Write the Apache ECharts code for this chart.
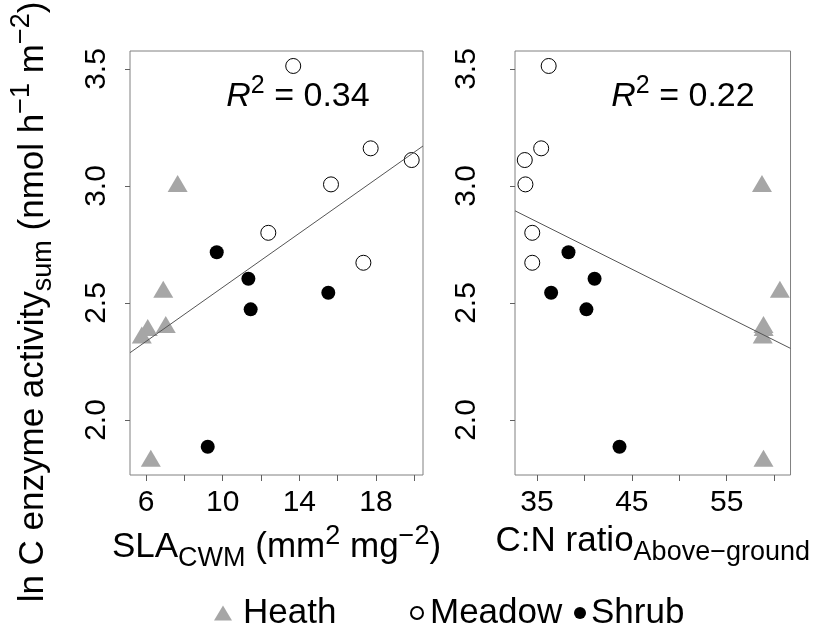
<!DOCTYPE html>
<html>
<head>
<meta charset="utf-8">
<script src="https://cdn.jsdelivr.net/npm/echarts@6/dist/echarts.min.js"></script>
<style>html,body{margin:0;padding:0;background:#fff;}#c{width:813px;height:630px;}</style>
</head>
<body>
<div id="c"></div>
<script>
// ---- data ----
const heathLn   = [2.998, 2.546, 2.395, 2.383, 2.351, 1.824];
const heathSLA  = [7.65, 6.9, 7.03, 6.09, 5.78, 6.25];
const heathCN   = [58.72, 60.61, 58.88, 58.9, 58.8, 58.88];

const meadowLn  = [3.513, 3.161, 3.111, 3.007, 2.80, 2.672];
const meadowSLA = [13.68, 17.72, 19.86, 15.65, 12.38, 17.34];
const meadowCN  = [36.23, 35.44, 33.71, 33.78, 34.50, 34.50];

const shrubLn   = [2.717, 2.604, 2.544, 2.473, 1.886];
const shrubSLA  = [9.69, 11.34, 15.51, 11.46, 9.22];
const shrubCN   = [38.32, 41.07, 36.49, 40.21, 43.70];

// fitted lines (intercept, slope) and R² labels
const fitSLA = [1.989, 0.0578];
const fitCN  = [3.5555, -0.02024];
const r2Labels = ['0.34', '0.22'];

// axis ranges and ticks
const xRangeSLA = [5.165, 20.45];
const xRangeCN  = [32.68, 61.73];
const yRange    = [1.765, 3.577];
const slaTicks  = [6, 8, 10, 12, 14, 16, 18, 20];
const slaLabels = [6, 10, 14, 18];
const cnTicks   = [35, 40, 45, 50, 55, 60];
const cnLabels  = [35, 45, 55];
const yTicks    = [2.0, 2.5, 3.0, 3.5];

const legendNames = ['Heath', 'Meadow', 'Shrub'];

// ---- build ----
const FONT = 'Liberation Sans';
const zip = (xs, ys) => xs.map((x, i) => [x, ys[i]]);
const fitLine = (fit, r) => [[r[0], fit[0] + fit[1] * r[0]], [r[1], fit[0] + fit[1] * r[1]]];

function rich(base, small, L) {
  return {
    t: { fontSize: base, lineHeight: L, fontFamily: FONT, color: '#000' },
    i: { fontSize: base, lineHeight: L, fontFamily: FONT, color: '#000', fontStyle: 'italic' },
    sub: { fontSize: small, lineHeight: small, fontFamily: FONT, color: '#000', verticalAlign: 'bottom' },
    sup: { fontSize: small, lineHeight: small, fontFamily: FONT, color: '#000', verticalAlign: 'top' }
  };
}

const gridBorder = '#808080';
const tickColor = '#606060';

function xAxis(idx, range, ticks, labels, name) {
  return {
    type: 'value', gridIndex: idx, min: range[0], max: range[1],
    axisLine: { show: false },
    axisTick: { show: true, customValues: ticks, length: 6, lineStyle: { color: tickColor } },
    axisLabel: { customValues: labels, fontSize: 30, lineHeight: 30, color: '#000', margin: 13, fontFamily: FONT },
    splitLine: { show: false },
    name: name, nameLocation: 'middle', nameGap: 42,
    nameTextStyle: { rich: rich(35, 27, 49) }
  };
}
function yAxis(idx, margin) {
  return {
    type: 'value', gridIndex: idx, min: yRange[0], max: yRange[1],
    axisLine: { show: false },
    axisTick: { show: true, customValues: yTicks, length: 5, lineStyle: { color: tickColor } },
    axisLabel: { customValues: yTicks, rotate: 90, fontSize: 30, lineHeight: 30, color: '#000', margin: margin,
      fontFamily: FONT, formatter: v => Number(v).toFixed(1) },
    splitLine: { show: false }
  };
}

const heathStyle = { color: '#a6a6a6', opacity: 1 };
const meadowStyle = { color: '#ffffff', borderColor: '#000', borderWidth: 1, opacity: 1 };
const shrubStyle = { color: '#000', opacity: 1 };

function pointSeries(idx, hx, mx, sx) {
  return [
    { name: 'Heath', type: 'scatter', xAxisIndex: idx, yAxisIndex: idx, data: zip(hx, heathLn),
      symbol: 'triangle', symbolSize: [20, 17], symbolOffset: [0, -3], itemStyle: heathStyle, z: 3 },
    { name: 'Meadow', type: 'scatter', xAxisIndex: idx, yAxisIndex: idx, data: zip(mx, meadowLn),
      symbol: 'circle', symbolSize: 15, itemStyle: meadowStyle, z: 3 },
    { name: 'Shrub', type: 'scatter', xAxisIndex: idx, yAxisIndex: idx, data: zip(sx, shrubLn),
      symbol: 'circle', symbolSize: 14, itemStyle: shrubStyle, z: 3 }
  ];
}
function lineSeries(idx, fit, range) {
  return { type: 'line', xAxisIndex: idx, yAxisIndex: idx, data: fitLine(fit, range), symbol: 'none',
    lineStyle: { color: '#555', width: 1 }, silent: true, z: 4, clip: true };
}

function legend(name, left, icon, w, h, pad) {
  return {
    data: [name], left: left, top: 588, orient: 'horizontal', icon: icon,
    itemWidth: w, itemHeight: h, selectedMode: false,
    textStyle: { fontSize: 35, lineHeight: 40, color: '#000', fontFamily: FONT, padding: [0, 0, 0, pad] }
  };
}

const option = {
  animation: false,
  backgroundColor: '#fff',
  textStyle: { fontFamily: FONT },
  grid: [
    { left: 130, top: 51, width: 293, height: 424, show: true, borderColor: gridBorder, borderWidth: 1, containLabel: false },
    { left: 515, top: 51, width: 292, height: 424, show: true, borderColor: gridBorder, borderWidth: 1, containLabel: false }
  ],
  xAxis: [
    xAxis(0, xRangeSLA, slaTicks, slaLabels, '{t|SLA}{sub|CWM}{t| (mm}{sup|2}{t| mg}{sup|−2}{t|)}'),
    xAxis(1, xRangeCN, cnTicks, cnLabels, '{t|C:N ratio}{sub|Above−ground}')
  ],
  yAxis: [yAxis(0, 18), yAxis(1, 33)],
  legend: [
    legend(legendNames[0], 209, 'triangle', 18, 15, 6),
    legend(legendNames[1], 405, 'circle', 12, 12, 2),
    legend(legendNames[2], 569, 'circle', 12, 12, 0)
  ],
  series: [
    ...pointSeries(0, heathSLA, meadowSLA, shrubSLA),
    lineSeries(0, fitSLA, xRangeSLA),
    ...pointSeries(1, heathCN, meadowCN, shrubCN),
    lineSeries(1, fitCN, xRangeCN)
  ],
  graphic: [
    { type: 'text', x: 33, y: 302, rotation: Math.PI / 2, z: 10,
      style: { text: '{t|ln C enzyme activity}{sub|sum}{t| (nmol h}{sup|−1}{t| m}{sup|−2}{t|)}',
        rich: rich(35, 27, 49), align: 'center', verticalAlign: 'middle', textAlign: 'center', textVerticalAlign: 'middle' } },
    { type: 'text', x: 298, y: 97, z: 10,
      style: { text: '{i|R}{sup|2}{t| = ' + r2Labels[0] + '}', rich: rich(34, 25, 47),
        align: 'center', verticalAlign: 'middle', textAlign: 'center', textVerticalAlign: 'middle' } },
    { type: 'text', x: 683, y: 97, z: 10,
      style: { text: '{i|R}{sup|2}{t| = ' + r2Labels[1] + '}', rich: rich(34, 25, 47),
        align: 'center', verticalAlign: 'middle', textAlign: 'center', textVerticalAlign: 'middle' } }
  ]
};

const chart = echarts.init(document.getElementById('c'), null, { renderer: 'canvas' });
chart.setOption(option);
</script>
</body>
</html>
